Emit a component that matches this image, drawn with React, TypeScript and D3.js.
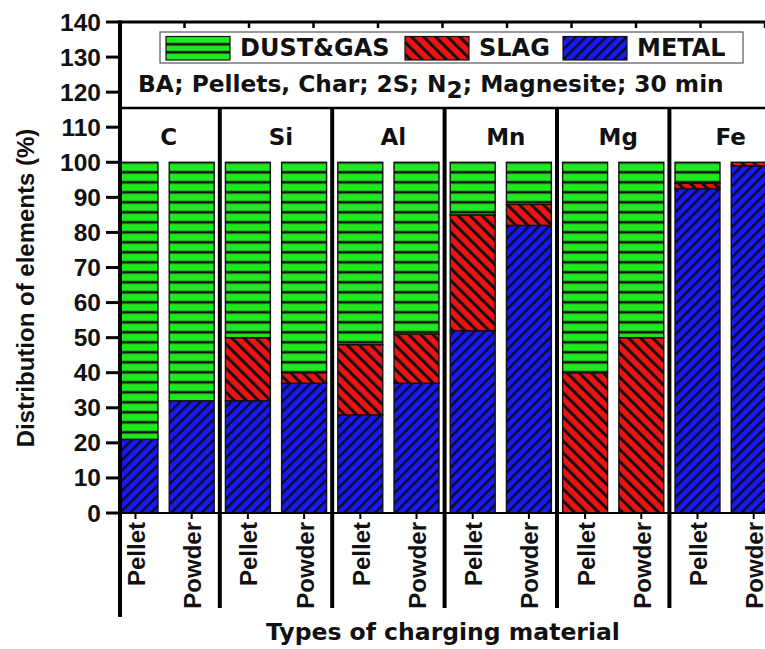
import React from "react";
import * as d3 from "d3";

// Element groups and charging forms
const elements = ["C", "Si", "Al", "Mn", "Mg", "Fe"];
const forms = ["Pellet", "Powder"];

// Distribution (%) per bar, ordered C-Pellet, C-Powder, Si-Pellet, ...
const metal = [21, 32, 32, 37, 28, 37, 52, 82, 0, 0, 92.5, 99];
const slag = [0, 0, 18, 3, 20, 14, 33, 6, 40, 50, 1.5, 1];
const dust = [79, 68, 50, 60, 52, 49, 15, 12, 60, 50, 6, 0];

const yTicks = d3.range(0, 141, 10);
const seriesKeys = ["metal", "slag", "dust"] as const;
const legendItems = [
  { key: "dust", label: "DUST&GAS" },
  { key: "slag", label: "SLAG" },
  { key: "metal", label: "METAL" },
];

const W = 765;
const H = 649;
const FONT = "'Liberation Sans', Arial, Helvetica, sans-serif";
const WIDE = "'DejaVu Sans', Verdana, sans-serif";

export default function App() {
  const rows = elements.flatMap((el, gi) =>
    forms.map((f, fi) => {
      const i = gi * 2 + fi;
      return { id: `${el}-${f}`, el, form: f, metal: metal[i], slag: slag[i], dust: dust[i] };
    })
  );

  const y = d3.scaleLinear().domain([0, 140]).range([513, 22]);
  const step = 56.2;
  const x = d3
    .scaleBand<string>()
    .domain(rows.map((r) => r.id))
    .range([107.4, 107.4 + rows.length * step])
    .paddingInner(0.2)
    .paddingOuter(0.1);
  const bw = x.bandwidth();
  const axisX = 120;
  const rightX = x.range()[1];
  const top = y(140);
  const headerY = y(115.5);
  const bottomY = y(0);

  const topScale = d3.scaleLinear().domain([0, 10.26]).range([axisX, rightX]);
  const topTicks = d3.range(1, 11);

  const stack = d3.stack<any>().keys(seriesKeys as unknown as string[]);
  const stacked = stack(rows);
  const fills: Record<string, string> = {
    metal: "url(#pMetal)",
    slag: "url(#pSlag)",
    dust: "url(#pDust)",
  };

  // group divider positions: midway in the gap after each powder bar
  const dividers = elements.slice(0, -1).map((el) => {
    const xp = x(`${el}-Powder`)!;
    return xp + bw + (step - bw) / 2;
  });

  const groupCenters = elements.map((el) => {
    const a = x(`${el}-Pellet`)!;
    const b = x(`${el}-Powder`)!;
    return (a + b + bw) / 2;
  });

  return (
    <svg
      width={W}
      height={H}
      style={{ position: "absolute", left: 0, top: 0, background: "#fff" }}
      fontFamily={FONT}
      fontWeight="bold"
    >
      <defs>
        <pattern id="pDust" patternUnits="userSpaceOnUse" width={10} height={10} y={top + 0.3}>
          <rect width={10} height={10} fill="#1fea1f" />
          <rect y={-1.3} width={10} height={2.6} fill="#111" />
          <rect y={8.7} width={10} height={2.6} fill="#111" />
        </pattern>
        <pattern id="pSlag" patternUnits="userSpaceOnUse" width={8.5} height={8.5} patternTransform="rotate(-45)">
          <rect width={8.5} height={8.5} fill="#f01212" />
          <rect x={0} width={3} height={8.5} fill="#151010" />
        </pattern>
        <pattern id="pMetal" patternUnits="userSpaceOnUse" width={7.2} height={7.2} patternTransform="rotate(45)">
          <rect width={7.2} height={7.2} fill="#1818fa" />
          <rect x={0} width={2.4} height={7.2} fill="#0b0b24" />
        </pattern>
        <pattern id="pDustLeg" patternUnits="userSpaceOnUse" width={10} height={23.5} x={166} y={36.5}>
          <rect width={10} height={23.5} fill="#1fea1f" />
          <rect y={6.5} width={10} height={2.6} fill="#111" />
          <rect y={14.5} width={10} height={2.6} fill="#111" />
        </pattern>
        <clipPath id="plotClip">
          <rect x={axisX} y={top} width={rightX - axisX} height={bottomY - top} />
        </clipPath>
      </defs>

      {/* stacked bars */}
      <g clipPath="url(#plotClip)">
        {stacked.map((s) =>
          s.map((d, i) => {
            const h = y(d[0]) - y(d[1]);
            if (h <= 0) return null;
            return (
              <rect
                key={`${s.key}-${i}`}
                x={x(rows[i].id)}
                y={y(d[1])}
                width={bw}
                height={h}
                fill={fills[s.key]}
                stroke="#111"
                strokeWidth={1.4}
              />
            );
          })
        )}
      </g>

      {/* frame: top border, header separator, x baseline */}
      <line x1={axisX - 2} x2={W + 20} y1={top} y2={top} stroke="#000" strokeWidth={3} />
      {topTicks.map((t) => (
        <line key={t} x1={topScale(t)} x2={topScale(t)} y1={top} y2={top + 6} stroke="#000" strokeWidth={2.5} />
      ))}
      <line x1={axisX} x2={W + 20} y1={headerY} y2={headerY} stroke="#000" strokeWidth={2.5} />
      <line x1={axisX} x2={W + 20} y1={bottomY} y2={bottomY} stroke="#000" strokeWidth={2} />

      {/* group dividers */}
      {dividers.map((dx, i) => (
        <line key={i} x1={dx} x2={dx} y1={headerY} y2={608} stroke="#000" strokeWidth={4} />
      ))}

      {/* left axis */}
      <line x1={axisX} x2={axisX} y1={top - 1.5} y2={617} stroke="#000" strokeWidth={4} />
      {yTicks.map((t) => (
        <g key={t}>
          <line x1={axisX - 14} x2={axisX} y1={y(t)} y2={y(t)} stroke="#000" strokeWidth={3} />
          <text x={101} y={y(t)} textAnchor="end" dominantBaseline="central" fontSize={24.5} fill="#111">
            {t}
          </text>
        </g>
      ))}

      {/* bar ticks and category labels */}
      {rows.map((r) => {
        const cx = x(r.id)! + bw / 2;
        return (
          <g key={r.id}>
            <line x1={cx} x2={cx} y1={bottomY} y2={bottomY + 6} stroke="#000" strokeWidth={2} />
            <text
              transform={`translate(${cx + 1},${bottomY + 9}) rotate(-90)`}
              textAnchor="end"
              dominantBaseline="central"
              fontSize={24}
              fill="#111"
            >
              {r.form}
            </text>
          </g>
        );
      })}

      {/* element labels */}
      {elements.map((el, i) => (
        <text
          key={el}
          x={groupCenters[i] + 5}
          y={(headerY + y(100)) / 2 + 2}
          textAnchor="middle"
          dominantBaseline="central"
          fontFamily={WIDE}
          fontSize={23}
          fill="#111"
        >
          {el}
        </text>
      ))}

      {/* legend */}
      <rect x={160} y={32} width={583} height={31} fill="#fff" stroke="#555" strokeWidth={1.2} />
      {legendItems.map((it, i) => {
        const sx = [166, 405, 563][i];
        const fill = it.key === "dust" ? "url(#pDustLeg)" : fills[it.key];
        return (
          <g key={it.key}>
            <rect x={sx} y={36.5} width={64} height={23.5} fill={fill} stroke="#111" strokeWidth={1.2} />
            <text x={sx + 74} y={56} fontFamily={WIDE} fontSize={24} fill="#111">
              {it.label}
            </text>
          </g>
        );
      })}

      <text x={138} y={92} fontFamily={WIDE} fontSize={23.3} fill="#111">
        BA; Pellets, Char; 2S; N
        <tspan dy={6}>2</tspan>
        <tspan dy={-6}>; Magnesite; 30 min</tspan>
      </text>

      {/* axis titles */}
      <text
        transform={`translate(25,288) rotate(-90)`}
        textAnchor="middle"
        dominantBaseline="central"
        fontSize={24}
        fill="#111"
      >
        Distribution of elements (%)
      </text>
      <text x={443} y={640} textAnchor="middle" fontFamily={WIDE} fontSize={23.5} fill="#111">
        Types of charging material
      </text>
    </svg>
  );
}
